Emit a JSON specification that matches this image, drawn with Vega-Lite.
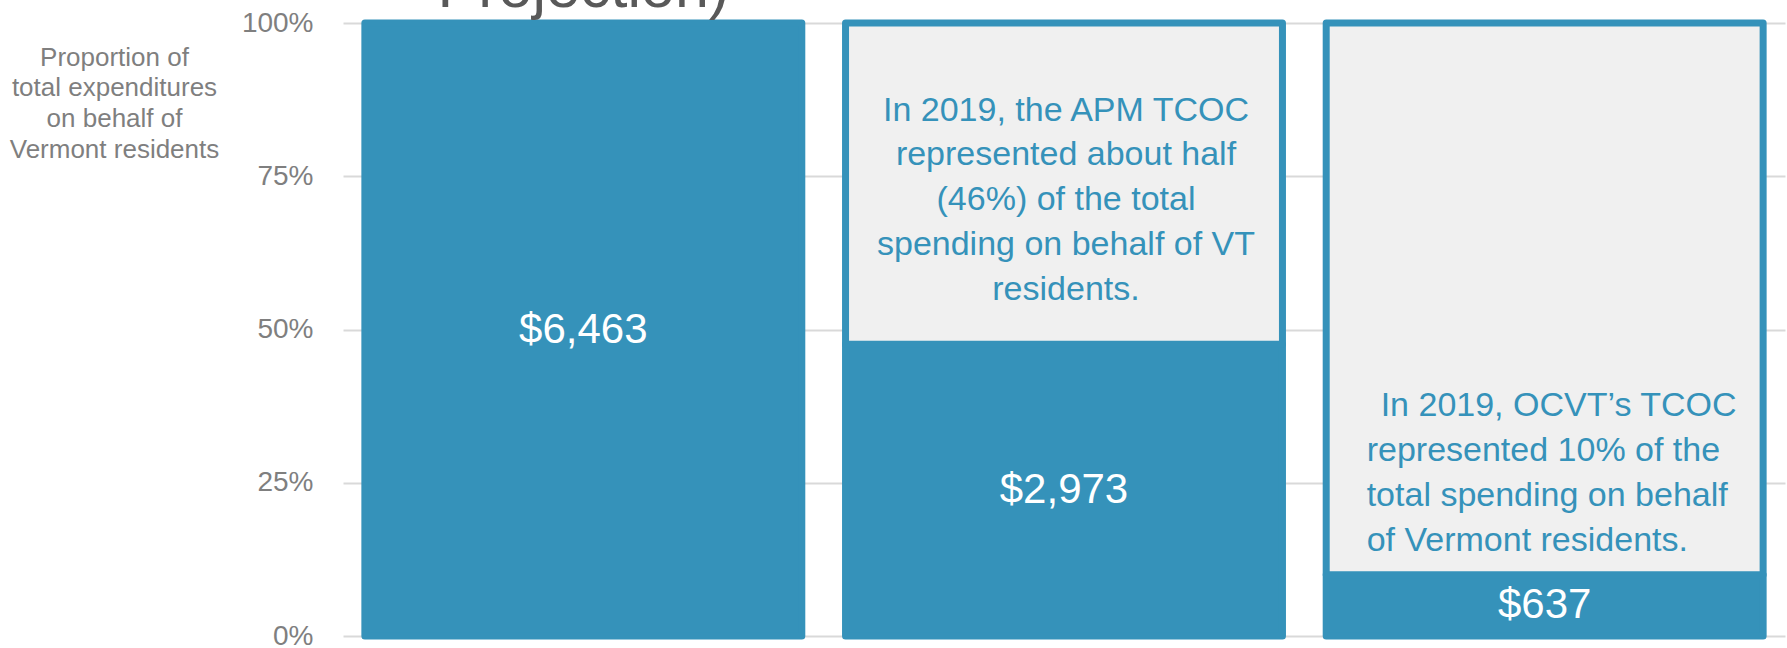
{
  "$schema": "https://vega.github.io/schema/vega-lite/v6.json",
  "width": 1442,
  "height": 613,
  "autosize": {"type": "none"},
  "padding": {"left": 343, "top": 23, "right": 2, "bottom": 12},
  "background": "white",
  "config": {"view": {"stroke": null}, "font": "Liberation Sans"},
  "datasets": {
    "bars": [
      {"cat": "Total", "segment": "TCOC", "share": 1.0, "label": "$6,463"},
      {"cat": "APM", "segment": "TCOC", "share": 0.476, "label": "$2,973"},
      {"cat": "APM", "segment": "Other", "share": 0.524, "label": ""},
      {"cat": "OCVT", "segment": "TCOC", "share": 0.10, "label": "$637"},
      {"cat": "OCVT", "segment": "Other", "share": 0.90, "label": ""}
    ]
  },
  "resolve": {"scale": {"y": "independent"}},
  "layer": [
    {
      "data": {"name": "bars"},
      "mark": {"type": "bar", "stroke": "#3592ba", "strokeWidth": 7, "strokeJoin": "round"},
      "encoding": {
        "x": {"field": "cat", "type": "nominal", "axis": null,
              "scale": {"domain": ["Total", "APM", "OCVT"], "paddingInner": 0.091, "paddingOuter": 0.0455}},
        "y": {"field": "share", "type": "quantitative", "stack": "zero",
              "scale": {"domain": [0, 1], "nice": false},
              "axis": {
                "values": [0, 0.25, 0.5, 0.75, 1], "format": ".0%",
                "domain": false, "ticks": false, "labelPadding": 30,
                "labelFontSize": 28, "labelColor": "#7f7f7f", "labelFont": "Liberation Sans",
                "gridColor": "#d9d9d9", "gridWidth": 2,
                "title": ["Proportion of", "total expenditures", "on behalf of", "Vermont residents"],
                "titleAngle": 0, "titleAlign": "center", "titleBaseline": "middle",
                "titleX": -229, "titleY": 34, "titleFontSize": 26, "titleFontWeight": "normal",
                "titleColor": "#7f7f7f", "titleLineHeight": 30.8, "titleFont": "Liberation Sans"
              }},
        "color": {"field": "segment", "type": "nominal", "legend": null,
                  "scale": {"domain": ["TCOC", "Other"], "range": ["#3592ba", "#f0f0f0"]}},
        "order": {"field": "segment", "sort": "descending"}
      }
    },
    {
      "data": {"name": "bars"},
      "transform": [{"filter": "datum.segment === 'TCOC'"}],
      "mark": {"type": "text", "color": "white", "fontSize": 42, "baseline": "middle", "align": "center"},
      "encoding": {
        "x": {"field": "cat", "type": "nominal", "axis": null},
        "y": {"field": "share", "type": "quantitative", "axis": null,
              "scale": {"domain": [0, 2], "nice": false}},
        "text": {"field": "label"}
      }
    },
    {
      "data": {"values": [{"cat": "APM", "note": ["In 2019, the APM TCOC", "represented about half", "(46%) of the total", "spending on behalf of VT", "residents."]}]},
      "mark": {"type": "text", "color": "#3592ba", "fontSize": 34, "baseline": "middle", "align": "center", "lineHeight": 44.8, "dx": 2},
      "encoding": {
        "x": {"field": "cat", "type": "nominal", "axis": null},
        "y": {"datum": 0.857, "type": "quantitative", "axis": null, "scale": {"domain": [0, 1], "nice": false}},
        "text": {"field": "note"}
      }
    },
    {
      "data": {"values": [{"cat": "OCVT", "note": "In 2019, OCVT\u2019s TCOC"}]},
      "mark": {"type": "text", "color": "#3592ba", "fontSize": 34, "baseline": "middle", "align": "left", "dx": -164},
      "encoding": {
        "x": {"field": "cat", "type": "nominal", "axis": null},
        "y": {"datum": 0.376, "type": "quantitative", "axis": null, "scale": {"domain": [0, 1], "nice": false}},
        "text": {"field": "note"}
      }
    },
    {
      "data": {"values": [{"cat": "OCVT", "note": ["represented  10% of the", "total spending on behalf", "of Vermont residents."]}]},
      "mark": {"type": "text", "color": "#3592ba", "fontSize": 34, "baseline": "middle", "align": "left", "lineHeight": 45.3, "dx": -178},
      "encoding": {
        "x": {"field": "cat", "type": "nominal", "axis": null},
        "y": {"datum": 0.302, "type": "quantitative", "axis": null, "scale": {"domain": [0, 1], "nice": false}},
        "text": {"field": "note"}
      }
    },
    {
      "data": {"values": [{"cat": "Total", "heading": "Projection)"}]},
      "mark": {"type": "text", "color": "#595959", "fontSize": 61, "baseline": "alphabetic", "align": "center", "dy": -16},
      "encoding": {
        "x": {"field": "cat", "type": "nominal", "axis": null},
        "y": {"datum": 1, "type": "quantitative", "axis": null, "scale": {"domain": [0, 1], "nice": false}},
        "text": {"field": "heading"}
      }
    }
  ]
}
